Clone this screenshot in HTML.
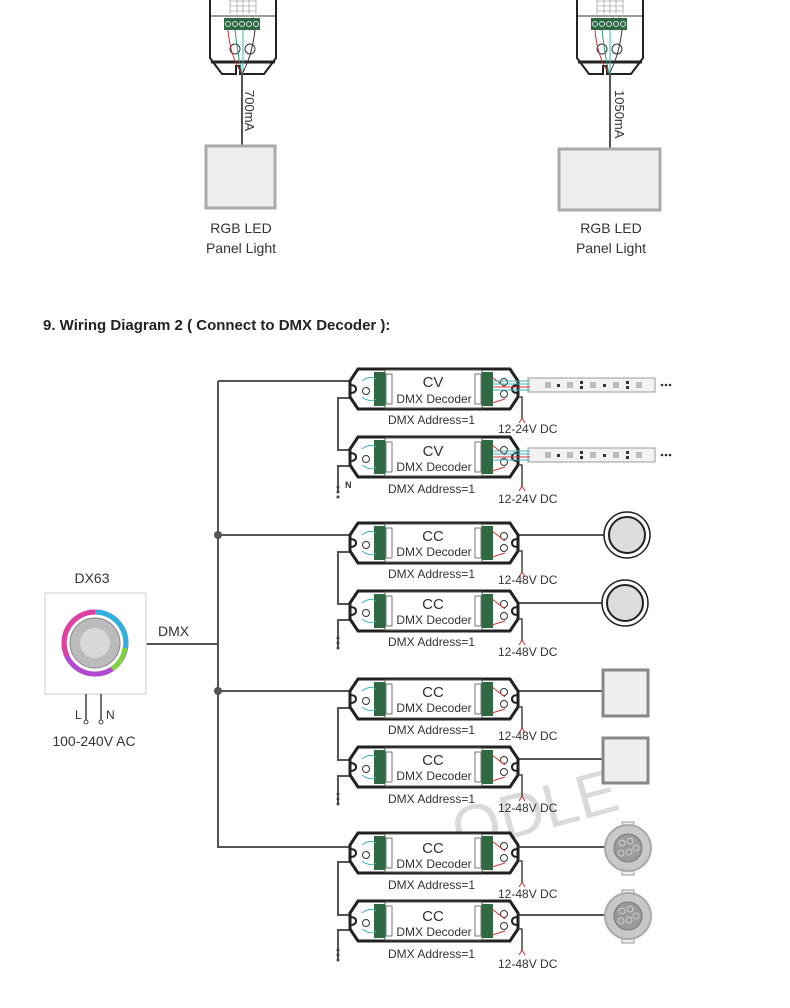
<!DOCTYPE html>
<html><head><meta charset="utf-8"><style>
html,body{margin:0;padding:0;background:#fff;width:790px;height:1008px;overflow:hidden}
svg{display:block}
text{font-family:"Liberation Sans",sans-serif;fill:#333}
</style></head><body>
<svg width="790" height="1008" viewBox="0 0 790 1008" xmlns="http://www.w3.org/2000/svg">
<defs>
<g id="dec">
  <path d="M358,-20 H510 L518,-8 V8 L510,20 H358 L350,8 V-8 Z" fill="#fff" stroke="#222" stroke-width="3"/>
  <path d="M350,-4 Q356,-4 356,0 Q356,4 350,4" fill="none" stroke="#222" stroke-width="2"/>
  <path d="M518,-4 Q512,-4 512,0 Q512,4 518,4" fill="none" stroke="#222" stroke-width="2"/>
  <rect x="385" y="-19" width="97" height="38" fill="#fff" stroke="#555" stroke-width="1"/>
  <rect x="374" y="-17" width="11" height="34" fill="#2f6a45"/>
  <rect x="482" y="-17" width="11" height="34" fill="#2f6a45"/>
  <rect x="386" y="-15" width="6" height="30" fill="none" stroke="#555" stroke-width="0.8"/>
  <rect x="475" y="-15" width="6" height="30" fill="none" stroke="#555" stroke-width="0.8"/>
  <circle cx="366" cy="2" r="3.5" fill="none" stroke="#333"/>
  <circle cx="504" cy="-7" r="3.5" fill="none" stroke="#333"/>
  <circle cx="504" cy="5" r="3.5" fill="none" stroke="#333"/>
  <path d="M362,-8 Q370,-14 376,-10 M362,8 Q370,14 376,10" fill="none" stroke="#3bb4b8" stroke-width="1"/>
  <path d="M492,-12 L505,-2 M492,14 L505,10" fill="none" stroke="#c33" stroke-width="1"/>
  <path d="M518,8 H522 V30" fill="none" stroke="#444" stroke-width="1.5"/>
  <path d="M519,34 L522,29 L525,34" fill="none" stroke="#c33" stroke-width="1"/>
</g>
<g id="strip">
  <rect x="528" y="-7" width="127" height="14" fill="#f2f2f2" stroke="#999"/>
  <g fill="#bbb"><rect x="545" y="-3" width="6" height="6"/><rect x="567" y="-3" width="6" height="6"/><rect x="590" y="-3" width="6" height="6"/><rect x="613" y="-3" width="6" height="6"/><rect x="636" y="-3" width="6" height="6"/></g>
  <g fill="#333"><rect x="557" y="-1" width="3" height="3"/><rect x="580" y="-4" width="3" height="3"/><rect x="580" y="1" width="3" height="3"/><rect x="603" y="-1" width="3" height="3"/><rect x="626" y="-4" width="3" height="3"/><rect x="626" y="1" width="3" height="3"/></g>
  <path d="M493,-4 H530 M493,-1 H530 M493,2 H530 M493,5 H530" stroke="#3bb4b8" stroke-width="1"/>
  <path d="M493,2 H530" stroke="#c33" stroke-width="1"/>
  <circle cx="662" cy="0" r="1.3" fill="#333"/><circle cx="666" cy="0" r="1.3" fill="#333"/><circle cx="670" cy="0" r="1.3" fill="#333"/>
</g>
<g id="drv">
  <path d="M0,0 V62 L12,78 H26 V70 H30 V78 H54 L66,62 V0" fill="#fff" stroke="#222" stroke-width="2"/>
  <path d="M1,66 H65" stroke="#222" stroke-width="3"/>
  <path d="M1,20 H65" stroke="#333" stroke-width="1"/>
  <g stroke="#888" stroke-width="0.6"><path d="M20,0 V18 M46,0 V18 M20,5 H46 M20,10 H46 M20,15 H46 M27,0 V18 M33,0 V18 M39,0 V18"/></g>
  <rect x="14" y="22" width="36" height="12" fill="#2f6a45"/>
  <g fill="none" stroke="#fff" stroke-width="0.8"><circle cx="18" cy="28" r="2.5"/><circle cx="25" cy="28" r="2.5"/><circle cx="32" cy="28" r="2.5"/><circle cx="39" cy="28" r="2.5"/><circle cx="46" cy="28" r="2.5"/></g>
  <g fill="none" stroke="#333"><circle cx="25" cy="53" r="5"/><circle cx="40" cy="53" r="5"/></g>
  <path d="M18,34 Q20,60 32,78" stroke="#c33" fill="none"/>
  <path d="M25,34 Q28,60 32,78" stroke="#2a9a70" fill="none"/>
  <path d="M33,34 V78" stroke="#3bb4b8" fill="none"/>
  <path d="M45,34 Q42,60 32,78" stroke="#333" fill="none"/>
</g>
</defs>

<use href="#drv" x="210" y="-4"/>
<use href="#drv" x="577" y="-4"/>
<path d="M242,74 V146" stroke="#555" stroke-width="2"/>
<path d="M610,74 V149" stroke="#555" stroke-width="2"/>
<text transform="translate(245,90) rotate(90)" font-size="13">700mA</text>
<text transform="translate(615,90) rotate(90)" font-size="13">1050mA</text>
<rect x="206" y="146" width="69" height="62" fill="#eee" stroke="#aaa" stroke-width="3"/>
<rect x="559" y="149" width="101" height="61" fill="#eee" stroke="#aaa" stroke-width="3"/>
<text x="241" y="233" font-size="14" text-anchor="middle">RGB LED</text>
<text x="241" y="253" font-size="14" text-anchor="middle">Panel Light</text>
<text x="611" y="233" font-size="14" text-anchor="middle">RGB LED</text>
<text x="611" y="253" font-size="14" text-anchor="middle">Panel Light</text>

<text x="43" y="330" font-size="15" font-weight="bold" style="fill:#222">9. Wiring Diagram 2 ( Connect to DMX Decoder ):</text>

<text x="448" y="830" font-size="62" font-family="Liberation Serif" transform="rotate(-15 540 800)" style="fill:#dadada">ODLE</text>

<g stroke="#555" stroke-width="2" fill="none">
  <path d="M218,381 V847 H350 M218,381 H350 M218,535 H350 M218,691 H350 M145,644 H218"/>
  <path d="M350,398 H338 V450 H350 M350,466 H338 V492"/>
  <path d="M350,552 H338 V604 H350 M350,620 H338 V648"/>
  <path d="M350,708 H338 V760 H350 M350,776 H338 V804"/>
  <path d="M350,862 H338 V915 H350 M350,930 H338 V960"/>
  <path d="M512,535 H604 M512,603 H603 M512,691 H602 M512,759 H602 M512,847 H608 M512,915 H608"/>
</g>
<circle cx="218" cy="535" r="4" fill="#555"/><circle cx="218" cy="691" r="4" fill="#555"/>
<g fill="#444">
<circle cx="338" cy="487" r="1.5"/><circle cx="338" cy="492" r="1.5"/><circle cx="338" cy="497" r="1.5"/>
<circle cx="338" cy="638" r="1.5"/><circle cx="338" cy="643" r="1.5"/><circle cx="338" cy="648" r="1.5"/>
<circle cx="338" cy="794" r="1.5"/><circle cx="338" cy="799" r="1.5"/><circle cx="338" cy="804" r="1.5"/>
<circle cx="338" cy="950" r="1.5"/><circle cx="338" cy="955" r="1.5"/><circle cx="338" cy="960" r="1.5"/>
</g>
<text x="345" y="488" font-size="9" font-weight="bold">N</text>

<use href="#dec" y="389"/><use href="#dec" y="457"/>
<use href="#dec" y="543"/><use href="#dec" y="611"/>
<use href="#dec" y="699"/><use href="#dec" y="767"/>
<use href="#dec" y="853"/><use href="#dec" y="921"/>
<use href="#strip" y="385"/><use href="#strip" y="455"/>

<g font-size="15" text-anchor="middle">
<text x="433" y="387">CV</text><text x="433" y="456">CV</text>
<text x="433" y="541">CC</text><text x="433" y="609">CC</text>
<text x="433" y="697">CC</text><text x="433" y="765">CC</text>
<text x="433" y="853">CC</text><text x="433" y="921">CC</text>
</g>
<g font-size="12" text-anchor="middle">
<text x="434" y="403">DMX Decoder</text><text x="434" y="471">DMX Decoder</text>
<text x="434" y="556">DMX Decoder</text><text x="434" y="624">DMX Decoder</text>
<text x="434" y="712">DMX Decoder</text><text x="434" y="780">DMX Decoder</text>
<text x="434" y="868">DMX Decoder</text><text x="434" y="936">DMX Decoder</text>
</g>
<g font-size="12">
<text x="388" y="424">DMX Address=1</text><text x="388" y="493">DMX Address=1</text>
<text x="388" y="578">DMX Address=1</text><text x="388" y="646">DMX Address=1</text>
<text x="388" y="734">DMX Address=1</text><text x="388" y="803">DMX Address=1</text>
<text x="388" y="889">DMX Address=1</text><text x="388" y="958">DMX Address=1</text>
<text x="498" y="433">12-24V DC</text><text x="498" y="503">12-24V DC</text>
<text x="498" y="584">12-48V DC</text><text x="498" y="656">12-48V DC</text>
<text x="498" y="740">12-48V DC</text><text x="498" y="812">12-48V DC</text>
<text x="498" y="898">12-48V DC</text><text x="498" y="968">12-48V DC</text>
</g>

<g stroke="#222" stroke-width="1.5">
<circle cx="627" cy="535" r="23" fill="#fff"/><circle cx="627" cy="535" r="18" fill="#ddd" stroke-width="2"/>
<circle cx="625" cy="603" r="23" fill="#fff"/><circle cx="625" cy="603" r="18" fill="#ddd" stroke-width="2"/>
</g>
<rect x="603" y="670" width="45" height="46" fill="#eee" stroke="#888" stroke-width="3"/>
<rect x="603" y="738" width="45" height="45" fill="#eee" stroke="#888" stroke-width="3"/>
<g stroke="#999" fill="#eee"><rect x="622" y="822" width="12" height="5"/><rect x="622" y="870" width="12" height="5"/><rect x="622" y="890" width="12" height="5"/><rect x="622" y="938" width="12" height="5"/></g>
<circle cx="628" cy="848" r="23" fill="#c8c8c8" stroke="#aaa" stroke-width="2"/><circle cx="628" cy="848" r="14" fill="#9a9a9a" stroke="#777"/>
<circle cx="628" cy="916" r="23" fill="#c8c8c8" stroke="#aaa" stroke-width="2"/><circle cx="628" cy="916" r="14" fill="#9a9a9a" stroke="#777"/>
<g fill="none" stroke="#ddd" stroke-width="0.8">
<circle cx="622" cy="843" r="3"/><circle cx="630" cy="841" r="3"/><circle cx="636" cy="848" r="3"/><circle cx="629" cy="852" r="3"/><circle cx="621" cy="853" r="3"/>
<circle cx="622" cy="911" r="3"/><circle cx="630" cy="909" r="3"/><circle cx="636" cy="916" r="3"/><circle cx="629" cy="920" r="3"/><circle cx="621" cy="921" r="3"/>
</g>

<text x="92" y="583" font-size="14" text-anchor="middle">DX63</text>
<rect x="45" y="593" width="101" height="101" fill="#fff" stroke="#ddd" stroke-width="1.5"/>
<circle cx="95" cy="643" r="31" fill="none" stroke="#b04ad0" stroke-width="5"/>
<path d="M67,656 A31,31 0 0 1 95,612" fill="none" stroke="#e040a0" stroke-width="5"/>
<path d="M95,612 A31,31 0 0 1 123,656" fill="none" stroke="#30b0e0" stroke-width="5"/>
<path d="M112,669 A31,31 0 0 0 125,648" fill="none" stroke="#80d040" stroke-width="5"/>
<circle cx="95" cy="643" r="25" fill="#bbb" stroke="#888"/>
<circle cx="95" cy="643" r="15" fill="#d8d8d8"/>
<path d="M86,694 V720 M101,694 V720" stroke="#444" stroke-width="1.5"/>
<circle cx="86" cy="722" r="2" fill="#fff" stroke="#444"/><circle cx="101" cy="722" r="2" fill="#fff" stroke="#444"/>
<text x="75" y="719" font-size="12">L</text><text x="106" y="719" font-size="12">N</text>
<text x="94" y="746" font-size="14" text-anchor="middle">100-240V AC</text>
<text x="158" y="636" font-size="14">DMX</text>
</svg>
</body></html>
